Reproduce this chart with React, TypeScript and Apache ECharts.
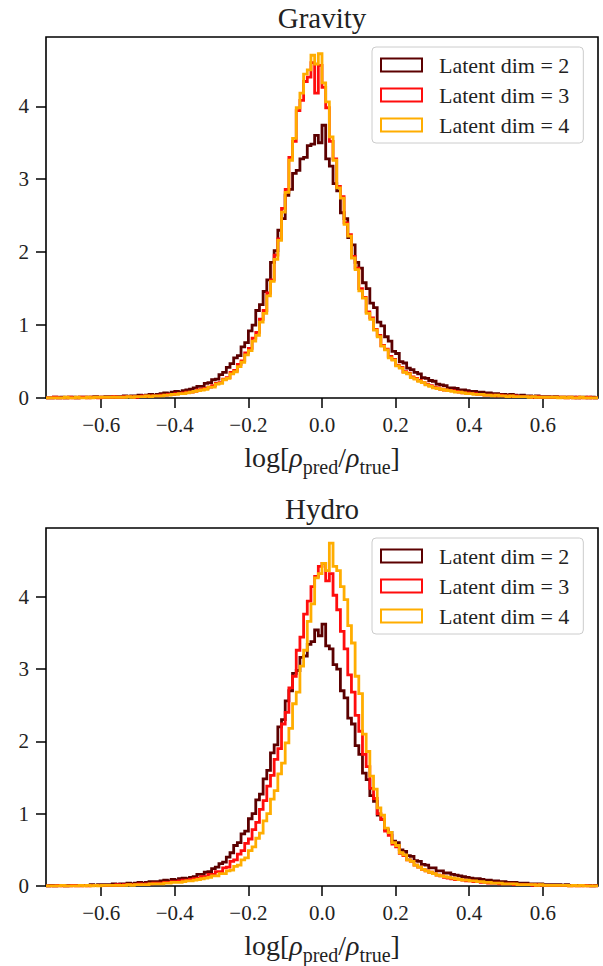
import React, { useEffect, useRef } from "react";
import * as echarts from "echarts";

// Histogram binning (bin edges run from BIN_START in steps of BIN_WIDTH)
const BIN_START = -0.75;
const BIN_WIDTH = 0.01;

const SERIES_NAMES = ["Latent dim = 2", "Latent dim = 3", "Latent dim = 4"];
const PANEL_TITLES = ["Gravity", "Hydro"];
const X_TICKS = [-0.6, -0.4, -0.2, 0.0, 0.2, 0.4, 0.6];
const Y_TICKS = [0, 1, 2, 3, 4];

// Gravity panel, densities per bin (150 bins from -0.75 to 0.75)
const gravityDim2 = [
  0.00, 0.00, 0.01, 0.00, 0.01, 0.00, 0.01, 0.01, 0.00, 0.01,
  0.01, 0.01, 0.01, 0.02, 0.01, 0.01, 0.02, 0.02, 0.01, 0.02,
  0.02, 0.03, 0.02, 0.03, 0.03, 0.04, 0.03, 0.04, 0.05, 0.04,
  0.05, 0.06, 0.07, 0.06, 0.08, 0.09, 0.08, 0.10, 0.11, 0.12,
  0.14, 0.16, 0.16, 0.20, 0.21, 0.25, 0.26, 0.32, 0.35, 0.42,
  0.47, 0.55, 0.58, 0.70, 0.76, 0.92, 1.00, 1.20, 1.28, 1.46,
  1.62, 1.86, 2.02, 2.30, 2.46, 2.78, 2.86, 3.08, 3.12, 3.28,
  3.30, 3.46, 3.48, 3.60, 3.50, 3.74, 3.28, 3.18, 2.94, 2.84,
  2.54, 2.46, 2.20, 2.10, 1.86, 1.78, 1.58, 1.50, 1.30, 1.24,
  1.04, 0.99, 0.84, 0.78, 0.64, 0.61, 0.50, 0.48, 0.41, 0.39,
  0.35, 0.33, 0.28, 0.27, 0.24, 0.23, 0.19, 0.18, 0.17, 0.14,
  0.14, 0.13, 0.11, 0.11, 0.10, 0.09, 0.09, 0.08, 0.08, 0.07,
  0.07, 0.06, 0.06, 0.05, 0.05, 0.04, 0.05, 0.04, 0.03, 0.04,
  0.03, 0.03, 0.02, 0.03, 0.02, 0.02, 0.02, 0.01, 0.02, 0.01,
  0.01, 0.01, 0.01, 0.01, 0.00, 0.01, 0.01, 0.00, 0.01, 0.00,
];
const gravityDim3 = [
  0.00, 0.00, 0.01, 0.00, 0.00, 0.00, 0.01, 0.00, 0.00, 0.01,
  0.01, 0.00, 0.01, 0.01, 0.00, 0.01, 0.01, 0.01, 0.02, 0.01,
  0.01, 0.02, 0.02, 0.02, 0.01, 0.02, 0.03, 0.02, 0.03, 0.03,
  0.03, 0.04, 0.04, 0.05, 0.05, 0.06, 0.06, 0.07, 0.08, 0.08,
  0.09, 0.11, 0.12, 0.13, 0.15, 0.17, 0.20, 0.21, 0.26, 0.28,
  0.35, 0.38, 0.46, 0.51, 0.62, 0.68, 0.82, 0.90, 1.08, 1.20,
  1.44, 1.62, 1.96, 2.18, 2.60, 2.86, 3.30, 3.52, 3.94, 4.08,
  4.34, 4.40, 4.60, 4.18, 4.56, 4.26, 3.98, 3.52, 3.28, 2.90,
  2.76, 2.40, 2.24, 1.94, 1.78, 1.50, 1.38, 1.18, 1.10, 0.94,
  0.86, 0.72, 0.67, 0.57, 0.53, 0.45, 0.42, 0.36, 0.34, 0.29,
  0.27, 0.24, 0.21, 0.19, 0.17, 0.15, 0.14, 0.12, 0.11, 0.10,
  0.10, 0.09, 0.08, 0.07, 0.07, 0.06, 0.06, 0.05, 0.05, 0.04,
  0.04, 0.04, 0.03, 0.04, 0.03, 0.03, 0.02, 0.03, 0.02, 0.02,
  0.02, 0.02, 0.01, 0.02, 0.01, 0.01, 0.01, 0.01, 0.01, 0.01,
  0.01, 0.00, 0.01, 0.00, 0.01, 0.00, 0.00, 0.01, 0.00, 0.00,
];
const gravityDim4 = [
  0.00, 0.00, 0.00, 0.00, 0.00, 0.01, 0.00, 0.00, 0.01, 0.00,
  0.00, 0.01, 0.00, 0.01, 0.01, 0.01, 0.01, 0.01, 0.01, 0.01,
  0.01, 0.01, 0.02, 0.01, 0.02, 0.02, 0.02, 0.03, 0.02, 0.03,
  0.03, 0.03, 0.04, 0.04, 0.05, 0.05, 0.06, 0.06, 0.07, 0.08,
  0.09, 0.10, 0.11, 0.12, 0.15, 0.15, 0.19, 0.20, 0.25, 0.27,
  0.33, 0.36, 0.43, 0.49, 0.59, 0.65, 0.78, 0.86, 1.04, 1.16,
  1.40, 1.60, 1.90, 2.16, 2.55, 2.82, 3.26, 3.56, 3.98, 4.18,
  4.44, 4.50, 4.70, 4.58, 4.72, 4.32, 4.06, 3.58, 3.26, 2.88,
  2.74, 2.38, 2.22, 1.92, 1.76, 1.47, 1.37, 1.16, 1.08, 0.93,
  0.84, 0.71, 0.66, 0.55, 0.52, 0.44, 0.41, 0.35, 0.33, 0.28,
  0.26, 0.23, 0.21, 0.18, 0.16, 0.14, 0.13, 0.12, 0.11, 0.10,
  0.09, 0.08, 0.08, 0.07, 0.06, 0.06, 0.05, 0.05, 0.05, 0.04,
  0.04, 0.03, 0.04, 0.03, 0.03, 0.02, 0.03, 0.02, 0.02, 0.02,
  0.02, 0.01, 0.02, 0.01, 0.01, 0.01, 0.01, 0.01, 0.01, 0.00,
  0.01, 0.00, 0.01, 0.00, 0.00, 0.01, 0.00, 0.00, 0.00, 0.00,
];

// Hydro panel
const hydroDim2 = [
  0.00, 0.01, 0.00, 0.01, 0.01, 0.00, 0.01, 0.01, 0.01, 0.01,
  0.01, 0.01, 0.02, 0.01, 0.02, 0.02, 0.02, 0.02, 0.03, 0.02,
  0.03, 0.03, 0.04, 0.03, 0.04, 0.05, 0.04, 0.05, 0.06, 0.06,
  0.06, 0.07, 0.08, 0.07, 0.09, 0.08, 0.10, 0.11, 0.10, 0.12,
  0.13, 0.16, 0.16, 0.19, 0.20, 0.24, 0.26, 0.31, 0.33, 0.40,
  0.46, 0.56, 0.60, 0.72, 0.76, 0.93, 1.00, 1.19, 1.27, 1.48,
  1.60, 1.84, 1.95, 2.20, 2.30, 2.56, 2.70, 2.94, 2.98, 3.16,
  3.18, 3.34, 3.38, 3.54, 3.46, 3.62, 3.32, 3.28, 3.06, 3.00,
  2.70, 2.60, 2.32, 2.24, 1.94, 1.82, 1.56, 1.47, 1.25, 1.17,
  0.98, 0.92, 0.78, 0.74, 0.62, 0.60, 0.50, 0.48, 0.42, 0.41,
  0.35, 0.34, 0.30, 0.29, 0.25, 0.25, 0.21, 0.21, 0.18, 0.18,
  0.16, 0.15, 0.14, 0.13, 0.12, 0.11, 0.10, 0.10, 0.09, 0.08,
  0.08, 0.07, 0.07, 0.06, 0.06, 0.05, 0.05, 0.05, 0.04, 0.04,
  0.04, 0.03, 0.03, 0.03, 0.03, 0.02, 0.02, 0.02, 0.02, 0.02,
  0.01, 0.02, 0.01, 0.01, 0.01, 0.01, 0.01, 0.01, 0.00, 0.01,
];
const hydroDim3 = [
  0.00, 0.00, 0.00, 0.01, 0.00, 0.00, 0.00, 0.01, 0.00, 0.00,
  0.01, 0.00, 0.01, 0.01, 0.01, 0.01, 0.01, 0.01, 0.01, 0.02,
  0.01, 0.02, 0.02, 0.02, 0.02, 0.03, 0.02, 0.03, 0.03, 0.04,
  0.04, 0.04, 0.05, 0.05, 0.06, 0.06, 0.07, 0.08, 0.08, 0.09,
  0.10, 0.11, 0.13, 0.13, 0.16, 0.16, 0.20, 0.20, 0.25, 0.26,
  0.34, 0.36, 0.44, 0.49, 0.59, 0.65, 0.78, 0.88, 1.06, 1.18,
  1.38, 1.53, 1.75, 1.90, 2.24, 2.40, 2.74, 2.90, 3.26, 3.44,
  3.76, 3.94, 4.14, 4.28, 4.42, 4.46, 4.22, 4.32, 4.02, 3.82,
  3.52, 3.28, 2.92, 2.68, 2.36, 2.14, 1.82, 1.65, 1.35, 1.21,
  1.00, 0.92, 0.76, 0.70, 0.58, 0.54, 0.45, 0.42, 0.36, 0.34,
  0.29, 0.26, 0.23, 0.21, 0.19, 0.17, 0.15, 0.14, 0.12, 0.11,
  0.10, 0.09, 0.09, 0.08, 0.07, 0.07, 0.06, 0.06, 0.05, 0.05,
  0.04, 0.04, 0.04, 0.03, 0.03, 0.03, 0.03, 0.02, 0.02, 0.02,
  0.02, 0.02, 0.01, 0.02, 0.01, 0.01, 0.01, 0.01, 0.01, 0.01,
  0.01, 0.01, 0.00, 0.01, 0.00, 0.00, 0.01, 0.00, 0.00, 0.00,
];
const hydroDim4 = [
  0.00, 0.00, 0.00, 0.00, 0.01, 0.00, 0.00, 0.00, 0.00, 0.01,
  0.00, 0.01, 0.00, 0.01, 0.00, 0.01, 0.01, 0.01, 0.01, 0.01,
  0.01, 0.01, 0.02, 0.01, 0.02, 0.02, 0.02, 0.02, 0.03, 0.03,
  0.03, 0.03, 0.04, 0.04, 0.05, 0.05, 0.05, 0.06, 0.07, 0.07,
  0.08, 0.09, 0.10, 0.11, 0.12, 0.14, 0.14, 0.17, 0.17, 0.21,
  0.22, 0.27, 0.29, 0.36, 0.39, 0.49, 0.54, 0.66, 0.73, 0.90,
  1.00, 1.20, 1.32, 1.55, 1.70, 1.98, 2.18, 2.52, 2.68, 3.04,
  3.26, 3.66, 3.90, 4.26, 4.32, 4.46, 4.36, 4.74, 4.42, 4.36,
  4.14, 3.96, 3.60, 3.36, 2.90, 2.66, 2.10, 1.86, 1.52, 1.34,
  1.08, 0.98, 0.80, 0.74, 0.60, 0.56, 0.46, 0.43, 0.36, 0.34,
  0.29, 0.26, 0.23, 0.21, 0.19, 0.17, 0.15, 0.14, 0.13, 0.12,
  0.11, 0.10, 0.09, 0.08, 0.08, 0.07, 0.07, 0.06, 0.06, 0.05,
  0.05, 0.04, 0.04, 0.04, 0.03, 0.03, 0.03, 0.03, 0.02, 0.02,
  0.02, 0.02, 0.02, 0.01, 0.02, 0.01, 0.01, 0.01, 0.01, 0.01,
  0.01, 0.01, 0.00, 0.01, 0.00, 0.01, 0.00, 0.00, 0.00, 0.00,
];

const PANELS = [
  [gravityDim2, gravityDim3, gravityDim4],
  [hydroDim2, hydroDim3, hydroDim4],
];

const COLORS = ["#5c0000", "#ff0d0d", "#ffad00"];
const FONT = "Liberation Serif";

function toStepPoints(values: number[]): number[][] {
  const pts = values.map((v, i) => [+(BIN_START + i * BIN_WIDTH).toFixed(4), v]);
  pts.push([+(BIN_START + values.length * BIN_WIDTH).toFixed(4), values[values.length - 1]]);
  return pts;
}

function fmtTick(v: number): string {
  const s = Math.abs(v).toFixed(1);
  return v < -1e-9 ? "\u2212" + s : s;
}

export default function App() {
  const ref = useRef<HTMLDivElement>(null);

  useEffect(() => {
    if (!ref.current) return;
    const chart = echarts.init(ref.current, null, { renderer: "svg" });

    const gridTops = [37, 528];
    const gridH = 361;

    const grids = gridTops.map((t) => ({
      left: 46,
      top: t,
      width: 552,
      height: gridH,
      show: true,
      borderColor: "#000",
      borderWidth: 1.6,
      backgroundColor: "transparent",
    }));

    const xAxes = gridTops.map((_, gi) => ({
      type: "value",
      gridIndex: gi,
      min: -0.75,
      max: 0.75,
      axisLine: { show: false, onZero: false },
      splitLine: { show: false },
      axisTick: {
        show: true,
        inside: false,
        length: 10,
        lineStyle: { color: "#000", width: 1.5 },
        customValues: X_TICKS,
      },
      axisLabel: {
        show: true,
        customValues: X_TICKS,
        formatter: (v: number) => fmtTick(v),
        fontFamily: FONT,
        fontSize: 21,
        color: "#222",
        margin: 16,
      },
      name: "{n|log[}{r|\u03c1}{s|pred}{n|/}{r|\u03c1}{s|true}{n|]}",
      nameLocation: "middle",
      nameGap: 45,
      nameTextStyle: {
        rich: {
          n: { fontFamily: FONT, fontSize: 28, color: "#222", verticalAlign: "top", lineHeight: 30 },
          r: { fontFamily: FONT, fontSize: 28, fontStyle: "italic", color: "#222", verticalAlign: "top", lineHeight: 30 },
          s: { fontFamily: FONT, fontSize: 20, color: "#222", verticalAlign: "top", lineHeight: 20, padding: [14, 0, 0, 0] },
        },
      },
    }));

    const yAxes = gridTops.map((_, gi) => ({
      type: "value",
      gridIndex: gi,
      min: 0,
      max: 4.95,
      axisLine: { show: false, onZero: false },
      splitLine: { show: false },
      axisTick: {
        show: true,
        inside: false,
        length: 10,
        lineStyle: { color: "#000", width: 1.5 },
        customValues: Y_TICKS,
      },
      axisLabel: {
        show: true,
        customValues: Y_TICKS,
        formatter: (v: number) => String(Math.round(v)),
        fontFamily: FONT,
        fontSize: 21,
        color: "#222",
        margin: 17,
      },
    }));

    const series: any[] = [];
    PANELS.forEach((panel, gi) => {
      panel.forEach((vals, si) => {
        series.push({
          type: "line",
          name: SERIES_NAMES[si],
          xAxisIndex: gi,
          yAxisIndex: gi,
          step: "end",
          data: toStepPoints(vals),
          showSymbol: false,
          symbol: "none",
          clip: true,
          lineStyle: { color: COLORS[si], width: 2.8, join: "miter" },
          itemStyle: { color: COLORS[si] },
          z: 2 + si,
        });
      });
    });

    const legends = gridTops.map((t) => ({
      orient: "vertical",
      left: 372,
      top: t + 10,
      icon: "rect",
      itemWidth: 41,
      itemHeight: 13,
      itemGap: 8,
      padding: [7, 14, 7, 8],
      backgroundColor: "rgba(255,255,255,0.85)",
      borderColor: "#cccccc",
      borderWidth: 1,
      borderRadius: 4,
      selectedMode: false,
      textStyle: { fontFamily: FONT, fontSize: 22, color: "#222", padding: [0, 0, 0, 12] },
      data: SERIES_NAMES.map((n, i) => ({
        name: n,
        itemStyle: { color: "transparent", borderColor: COLORS[i], borderWidth: 2 },
      })),
    }));

    const titles = PANEL_TITLES.map((txt, i) => ({
      text: txt,
      left: 322,
      top: gridTops[i] - 34,
      textAlign: "center",
      padding: 0,
      textStyle: { fontFamily: FONT, fontSize: 29, fontWeight: "normal", color: "#222" },
    }));

    chart.setOption({
      animation: false,
      backgroundColor: "#fff",
      title: titles,
      legend: legends,
      grid: grids,
      xAxis: xAxes,
      yAxis: yAxes,
      series,
    });

    return () => chart.dispose();
  }, []);

  return (
    <div
      ref={ref}
      style={{ position: "fixed", left: 0, top: 0, width: 603, height: 966, background: "#fff" }}
    />
  );
}
